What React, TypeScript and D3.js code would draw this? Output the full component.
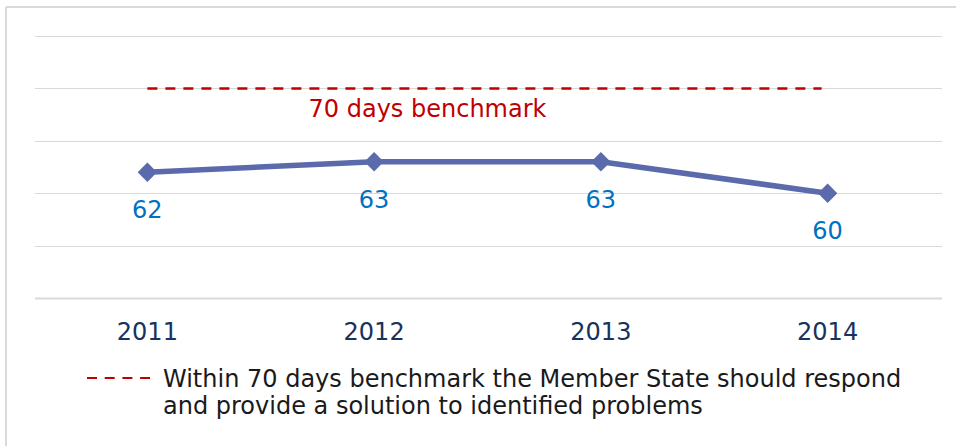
import React from "react";
import * as d3 from "d3";

const years = ["2011", "2012", "2013", "2014"];
const days = [62, 63, 63, 60];
const benchmark = 70;
const yTicks = [50, 55, 60, 65, 70, 75];
const benchmarkLabel = "70 days benchmark";
const legendLines = [
  "Within 70 days benchmark the Member State should respond",
  "and provide a solution to identified problems",
];

const W = 956;
const H = 446;
const FONT = "Verdana, 'DejaVu Sans', sans-serif";

export default function App() {
  const x = d3.scaleBand<string>().domain(years).range([35, 942]);
  const y = d3.scaleLinear().domain([50, 75]).range([298, 36]);
  const cx = (d: string) => (x(d) as number) + x.bandwidth() / 2 - 1;

  const line = d3
    .line<number>()
    .x((_, i) => cx(years[i]))
    .y((d) => y(d));

  const diamond = d3.symbol().type(d3.symbolDiamond2).size(240)();

  const bx0 = cx(years[0]);
  const bx1 = cx(years[years.length - 1]) - 6;

  return (
    <svg
      width={W}
      height={H}
      style={{ position: "absolute", left: 0, top: 0, background: "#fff" }}
      fontFamily={FONT}
    >
      {/* frame */}
      <line x1={6} x2={W} y1={7} y2={7} stroke="#d9d9d9" strokeWidth={2} />
      <line x1={6} x2={6} y1={7} y2={H} stroke="#d9d9d9" strokeWidth={2} />

      {/* gridlines */}
      {yTicks.map((t, i) => (
        <line
          key={t}
          x1={35}
          x2={942}
          y1={Math.round(y(t)) + 0.5}
          y2={Math.round(y(t)) + 0.5}
          stroke="#d9d9d9"
          strokeWidth={i === 0 ? 2 : 1}
        />
      ))}

      {/* benchmark */}
      <line
        x1={bx0}
        x2={bx1}
        y1={y(benchmark)}
        y2={y(benchmark)}
        stroke="#C00000"
        strokeWidth={2.5}
        strokeDasharray="10 8"
      />
      <text
        x={(bx0 + bx1) / 2 - 57}
        y={117}
        textAnchor="middle"
        fill="#C00000"
        fontSize={24}
      >
        {benchmarkLabel}
      </text>

      {/* series */}
      <path d={line(days) || ""} fill="none" stroke="#5A6AAB" strokeWidth={5.5} />
      {days.map((d, i) => (
        <path
          key={i}
          d={diamond || ""}
          transform={`translate(${cx(years[i])},${y(d)})`}
          fill="#5A6AAB"
        />
      ))}
      {days.map((d, i) => (
        <text
          key={"l" + i}
          x={cx(years[i])}
          y={y(d) + 46}
          textAnchor="middle"
          fill="#0070C0"
          fontSize={24}
        >
          {d}
        </text>
      ))}

      {/* x labels */}
      {years.map((yr) => (
        <text
          key={yr}
          x={cx(yr)}
          y={340}
          textAnchor="middle"
          fill="#17325E"
          fontSize={24}
        >
          {yr}
        </text>
      ))}

      {/* legend */}
      <line
        x1={87}
        x2={150}
        y1={378}
        y2={378}
        stroke="#C00000"
        strokeWidth={2}
        strokeDasharray="10 7.7"
      />
      {legendLines.map((l, i) => (
        <text key={i} x={163} y={387 + i * 27} fill="#1a1a1a" fontSize={24}>
          {l}
        </text>
      ))}
    </svg>
  );
}
